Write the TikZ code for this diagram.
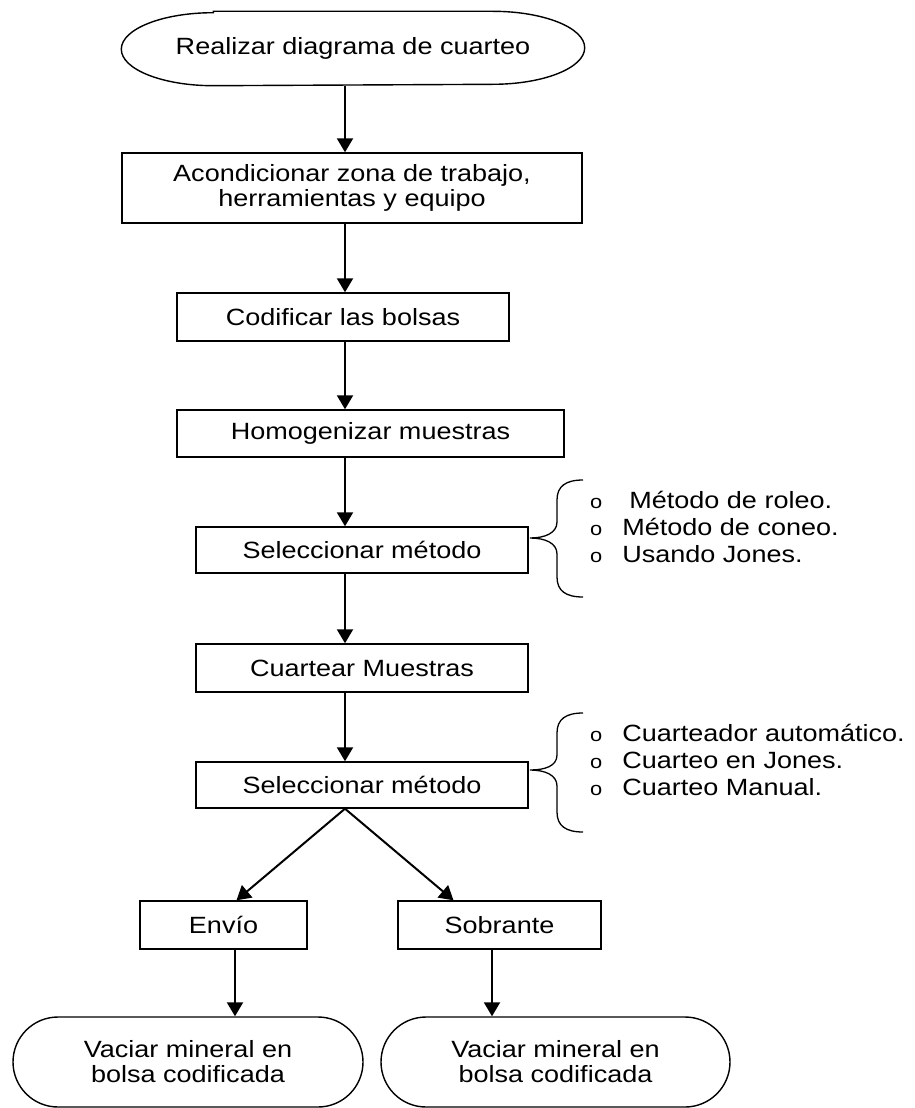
\documentclass[tikz,border=0pt]{standalone}
\usepackage{fontspec}
\setmainfont{Liberation Sans}[FakeStretch=1.15]
\usetikzlibrary{arrows.meta}

\newcommand{\lbul}{{\fontsize{19}{19}\selectfont o}}

\begin{document}
\begin{tikzpicture}[
  x=1pt, y=-1pt,
  font=\fontsize{23.5}{25}\selectfont,
  box/.style={draw, line width=1.4pt, align=center, inner sep=0pt},
  term/.style={box, rounded corners=45pt},
  arr/.style={-{Triangle[length=14pt,width=16pt]}, line width=2pt},
  brc/.style={line width=1.3pt},
  lst/.style={anchor=west, inner sep=0pt, font=\fontsize{23.5}{27}\selectfont}
]
  \useasboundingbox (0,0) rectangle (915,1108);
  \coordinate (spine) at (345,0);
  \coordinate (lspine) at (235,0);
  \coordinate (rspine) at (492,0);

  % Start terminal (elliptic ends)
  \node[box, draw=none, minimum width=462pt, minimum height=73pt] (start) at (353,48.5) {Realizar diagrama de cuarteo};
  \draw[line width=1.4pt] ([xshift=92pt]start.north west) -- ([xshift=-92pt]start.north east)
    arc[start angle=90, end angle=-90, x radius=92pt, y radius=36.5pt]
    -- ([xshift=92pt]start.south west)
    arc[start angle=270, end angle=90, x radius=92pt, y radius=36.5pt] -- cycle;

  % Main steps
  \node[box, minimum width=460pt, minimum height=70pt] (acond) at (352,188) {Acondicionar zona de trabajo,\\herramientas y equipo};
  \node[box, minimum width=332pt, minimum height=48pt] (codif) at (343,317) {Codificar las bolsas};
  \node[box, minimum width=387pt, minimum height=47pt] (homog) at (370.5,433.5) {Homogenizar muestras};
  \node[box, minimum width=332pt, minimum height=46pt] (selA) at (362,550) {Seleccionar método};
  \node[box, minimum width=332pt, minimum height=48pt] (cuart) at (362,668) {Cuartear Muestras};
  \node[box, minimum width=332pt, minimum height=46pt] (selB) at (362,785) {Seleccionar método};

  % Branches
  \node[box, minimum width=167pt, minimum height=48pt] (envio) at (223.5,925) {Envío};
  \node[box, minimum width=203pt, minimum height=48pt] (sobr) at (499.5,925) {Sobrante};
  \node[term, minimum width=350pt, minimum height=90pt] (vacA) at (188,1062) {Vaciar mineral en\\bolsa codificada};
  \node[term, minimum width=349pt, minimum height=90pt] (vacB) at (555.5,1062) {Vaciar mineral en\\bolsa codificada};

  % Method lists
  \node[lst] (metA) at (590,530) {\begin{tabular}{@{}l@{\hspace{20pt}}l@{}}
    \lbul & \hspace{7pt}Método de roleo.\\
    \lbul & Método de coneo.\\
    \lbul & Usando Jones.
  \end{tabular}};
  \node[lst] (metB) at (590,763) {\begin{tabular}{@{}l@{\hspace{20pt}}l@{}}
    \lbul & Cuarteador automático.\\
    \lbul & Cuarteo en Jones.\\
    \lbul & Cuarteo Manual.
  \end{tabular}};

  % Braces
  \draw[brc] (583,480) .. controls (566,480) and (557,486) .. (557,500) -- (557,522)
    .. controls (557,533) and (545,538) .. (530,538)
    .. controls (545,538) and (557,543) .. (557,554) -- (557,577)
    .. controls (557,591) and (566,597) .. (583,597);
  \draw[brc] (583,713) .. controls (566,713) and (557,719) .. (557,733) -- (557,755)
    .. controls (557,766) and (545,770) .. (530,770)
    .. controls (545,770) and (557,775) .. (557,786) -- (557,812)
    .. controls (557,826) and (566,832) .. (583,832);

  % Flow
  \draw[arr] (start.south -| spine) -- (acond.north -| spine);
  \draw[arr] (acond.south -| spine) -- (codif.north -| spine);
  \draw[arr] (codif.south -| spine) -- (homog.north -| spine);
  \draw[arr] (homog.south -| spine) -- (selA.north -| spine);
  \draw[arr] (selA.south -| spine) -- (cuart.north -| spine);
  \draw[arr] (cuart.south -| spine) -- (selB.north -| spine);
  \draw[arr] (selB.south -| spine) -- ([xshift=13pt]envio.north);
  \draw[arr] (selB.south -| spine) -- ([xshift=-46pt]sobr.north);
  \draw[arr] (envio.south -| lspine) -- (vacA.north -| lspine);
  \draw[arr] (sobr.south -| rspine) -- (vacB.north -| rspine);
\end{tikzpicture}
\end{document}
